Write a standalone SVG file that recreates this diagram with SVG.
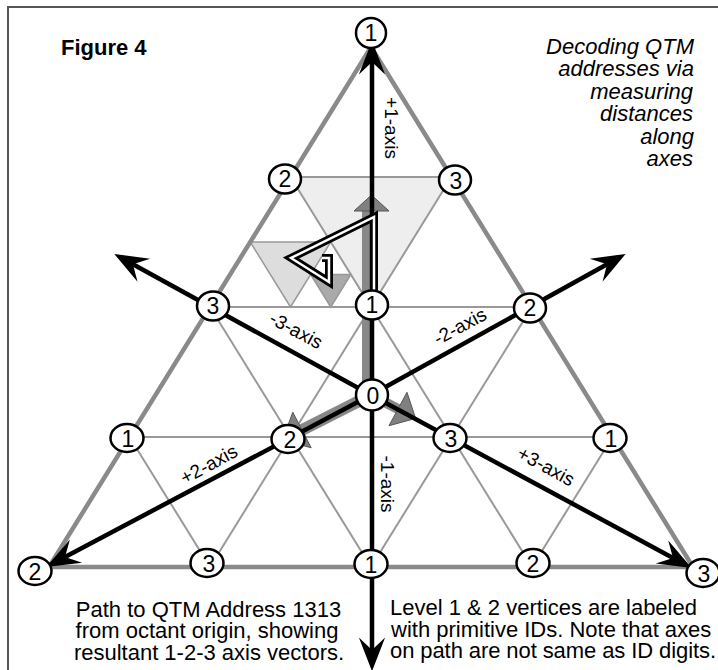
<svg xmlns="http://www.w3.org/2000/svg" width="718" height="670" viewBox="0 0 718 670">
<defs>
<style>
.frame{fill:none;stroke:#555;stroke-width:2}
.outer{fill:none;stroke:#8a8a8a;stroke-width:4.5;stroke-linejoin:miter}
.grid{fill:none;stroke:#999;stroke-width:2}
.axis{fill:none;stroke:#000;stroke-width:4.5;marker-end:url(#barb)}
.vec{fill:none;stroke:#888;stroke-linecap:butt}
.vhead{fill:#808080;stroke:#555;stroke-width:1}
.node ellipse{fill:#fff;stroke:#000;stroke-width:2.5}
.node text{font-family:"Liberation Sans",Arial,sans-serif;font-size:23px;text-anchor:middle;fill:#000}
.lbl{font-family:"Liberation Sans",Arial,sans-serif;font-size:19px;text-anchor:middle;fill:#000}
.cap{font-family:"Liberation Sans",Arial,sans-serif;font-size:22px;fill:#000}
</style>
<marker id="barb" markerUnits="userSpaceOnUse" markerWidth="40" markerHeight="30" viewBox="-12 -12 32 24" refX="0" refY="0" orient="auto">
<path d="M17,0 L-10,-10.5 L0,0 L-10,10.5 Z" fill="#000"/>
</marker>
</defs>

<path class="frame" d="M8,672 V7 H720"/>

<g id="shading">
<polygon points="290.5,177 451.5,177 371,307" fill="#eeeeee"/>
<polygon points="250.25,242 330.75,242 290.5,307" fill="#dddddd" stroke="#999" stroke-width="1.5"/>
<polygon points="310.6,274.5 350.9,274.5 330.75,307" fill="#aaaaaa" stroke="#999" stroke-width="1.5"/>
</g>

<g id="grid">
<line class="grid" x1="290.5" y1="177" x2="451.5" y2="177"/>
<line class="grid" x1="210" y1="307" x2="532" y2="307"/>
<line class="grid" x1="129.5" y1="437" x2="612.5" y2="437"/>
<line class="grid" x1="290.5" y1="177" x2="532" y2="567"/>
<line class="grid" x1="210" y1="307" x2="371" y2="567"/>
<line class="grid" x1="129.5" y1="437" x2="210" y2="567"/>
<line class="grid" x1="451.5" y1="177" x2="210" y2="567"/>
<line class="grid" x1="532" y1="307" x2="371" y2="567"/>
<line class="grid" x1="612.5" y1="437" x2="532" y2="567"/>
<polygon class="outer" points="371,47 693,567 49,567"/>
</g>

<g id="connectors">
<line class="vec" x1="366" y1="395" x2="366" y2="211" stroke-width="8"/>
<polygon class="vhead" points="354,211 389,211 371.5,195"/>
<line class="vec" x1="371" y1="395" x2="302" y2="430" stroke-width="12"/>
<polygon class="vhead" points="311.2,447.8 292.8,412.2 282.5,440"/>
<line class="vec" x1="371" y1="395" x2="398" y2="409" stroke-width="10"/>
<polygon class="vhead" points="389,425.7 407,392.3 415.6,418.4"/>

<line class="axis" x1="372" y1="395" x2="372" y2="62"/>
<line class="axis" x1="372" y1="395" x2="372" y2="650"/>
<line class="axis" x1="371" y1="395" x2="132.9" y2="264.2"/>
<line class="axis" x1="371" y1="395" x2="673" y2="557.9"/>
<line class="axis" x1="371" y1="395" x2="607.1" y2="264.2"/>
<line class="axis" x1="371" y1="395" x2="65" y2="557"/>

<g id="path1313">
<polyline points="374,300 374,217 291,258 329,282 329,258 322,258" fill="none" stroke="#000" stroke-width="8" stroke-linejoin="miter" stroke-miterlimit="10"/>
<polyline points="374,300 374,217 291,258 329,282 329,258 322,258" fill="none" stroke="#fff" stroke-width="2.5" stroke-linejoin="miter" stroke-miterlimit="10"/>
</g>
</g>

<g id="axis-labels">
<text class="lbl" transform="translate(385,128) rotate(90)">+1-axis</text>
<text class="lbl" transform="translate(381,484) rotate(90)">-1-axis</text>
<text class="lbl" transform="translate(293,336) rotate(28.5)">-3-axis</text>
<text class="lbl" transform="translate(543,472) rotate(28.5)">+3-axis</text>
<text class="lbl" transform="translate(463,332) rotate(-28.5)">-2-axis</text>
<text class="lbl" transform="translate(212,470) rotate(-28.5)">+2-axis</text>
</g>

<g id="n_apex1" class="node"><ellipse cx="371" cy="33" rx="15" ry="15"/><text x="371" y="41">1</text></g>
<g id="n_r1_2" class="node"><ellipse cx="285" cy="179" rx="16" ry="14.5"/><text x="285" y="187">2</text></g>
<g id="n_r1_3" class="node"><ellipse cx="455" cy="180" rx="16" ry="14.5"/><text x="456" y="188.5">3</text></g>
<g id="n_r2_3" class="node"><ellipse cx="213" cy="306" rx="16" ry="14.5"/><text x="213" y="314">3</text></g>
<g id="n_r2_1" class="node"><ellipse cx="372" cy="305" rx="16" ry="14.5"/><text x="372" y="313">1</text></g>
<g id="n_r2_2" class="node"><ellipse cx="530" cy="308" rx="16" ry="14.5"/><text x="530" y="316">2</text></g>
<g id="n_0" class="node"><ellipse cx="372" cy="395" rx="16" ry="15.5"/><text x="373" y="403.5">0</text></g>
<g id="n_r3_1" class="node"><ellipse cx="127" cy="438" rx="16.5" ry="14"/><text x="128" y="446.5">1</text></g>
<g id="n_r3_2" class="node"><ellipse cx="288" cy="439" rx="16.5" ry="14"/><text x="290" y="448">2</text></g>
<g id="n_r3_3" class="node"><ellipse cx="450" cy="438" rx="16.5" ry="14"/><text x="451" y="447">3</text></g>
<g id="n_r3_1b" class="node"><ellipse cx="610" cy="438" rx="16.5" ry="14"/><text x="611" y="447">1</text></g>
<g id="n_bl2" class="node"><ellipse cx="35" cy="571" rx="16.5" ry="14"/><text x="35" y="579.5">2</text></g>
<g id="n_r4_3" class="node"><ellipse cx="207" cy="563" rx="16.5" ry="14"/><text x="209" y="572">3</text></g>
<g id="n_r4_1" class="node"><ellipse cx="371" cy="564" rx="16.5" ry="14"/><text x="371" y="572.5">1</text></g>
<g id="n_r4_2" class="node"><ellipse cx="533" cy="563" rx="16.5" ry="14"/><text x="533" y="571.5">2</text></g>
<g id="n_br3" class="node"><ellipse cx="703" cy="573" rx="16.5" ry="14"/><text x="704" y="581.5">3</text></g>

<g id="captions">
<text class="cap" x="61" y="55" font-weight="bold">Figure 4</text>
<g font-style="italic">
<text class="cap" x="694" y="54" text-anchor="end">Decoding QTM</text>
<text class="cap" x="694" y="76" text-anchor="end">addresses via</text>
<text class="cap" x="693" y="99" text-anchor="end">measuring</text>
<text class="cap" x="693" y="121" text-anchor="end">distances</text>
<text class="cap" x="694" y="144" text-anchor="end">along</text>
<text class="cap" x="693" y="166" text-anchor="end">axes</text>
</g>
<text class="cap" x="208.5" y="617" text-anchor="middle">Path to QTM Address 1313</text>
<text class="cap" x="207" y="638" text-anchor="middle">from octant origin, showing</text>
<text class="cap" x="209" y="660" text-anchor="middle">resultant 1-2-3 axis vectors.</text>
<text class="cap" x="390" y="615">Level 1 &amp; 2 vertices are labeled</text>
<text class="cap" x="391" y="637">with primitive IDs. Note that axes</text>
<text class="cap" x="390" y="658" textLength="326" lengthAdjust="spacing">on path are not same as ID digits.</text>
</g>
</svg>
